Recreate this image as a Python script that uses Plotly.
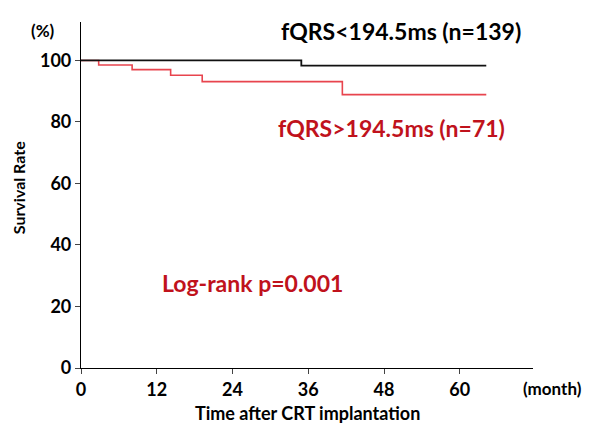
import plotly.graph_objects as go

# Kaplan-Meier step data (months, survival %)
low_t = [0, 34.9, 64.2]
low_s = [100, 98.3, 98.3]
high_t = [0, 2.8, 8.1, 14.2, 19.2, 41.4, 64.2]
high_s = [100, 98.5, 97.0, 95.2, 93.1, 88.9, 88.9]

x_ticks = [0, 12, 24, 36, 48, 60]
y_ticks = [0, 20, 40, 60, 80, 100]

FONT = "Lato"
RED_TXT = "#c0121c"

fig = go.Figure()
fig.add_trace(go.Scatter(x=high_t, y=high_s, mode="lines", line=dict(color="#e8444e", width=1.6, shape="hv"),
                         showlegend=False, hoverinfo="skip"))
fig.add_trace(go.Scatter(x=low_t, y=low_s, mode="lines", line=dict(color="#111111", width=1.8, shape="hv"),
                         showlegend=False, hoverinfo="skip"))

# page has ~8px body margin, so figure is shrunk and shifted accordingly
fig.update_layout(
    width=585, height=417,
    margin=dict(l=73, r=60, t=14, b=57),
    paper_bgcolor="white", plot_bgcolor="white",
    font=dict(family=FONT, color="black"),
    xaxis=dict(range=[0, 71.6], tickvals=x_ticks, ticks="outside", ticklen=5, tickwidth=1,
               showline=True, linecolor="black", linewidth=1.2, showgrid=False, zeroline=False,
               automargin=False, tickfont=dict(size=18, color="black", weight=700)),
    yaxis=dict(range=[0, 112.5], tickvals=y_ticks, ticks="outside", ticklen=5, tickwidth=1,
               showline=True, linecolor="black", linewidth=1.2, showgrid=False, zeroline=False,
               automargin=False, tickfont=dict(size=18, color="black", weight=700)),
)

fig.add_annotation(x=70, y=109.7, xref="x", yref="y", xanchor="right", yanchor="middle",
                   text="<b>fQRS&lt;194.5ms (n=139)</b>", showarrow=False, font=dict(size=23, color="black"))
fig.add_annotation(x=30.9, y=77.9, xref="x", yref="y", xanchor="left", yanchor="middle",
                   text="<b>fQRS&gt;194.5ms (n=71)</b>", showarrow=False, font=dict(size=23, color=RED_TXT))
fig.add_annotation(x=12.5, y=27.6, xref="x", yref="y", xanchor="left", yanchor="middle",
                   text="<b>Log-rank p=0.001</b>", showarrow=False, font=dict(size=23, color=RED_TXT))
fig.add_annotation(x=-0.084, y=109.7, xref="paper", yref="y", xanchor="center", yanchor="middle",
                   text="<b>(%)</b>", showarrow=False, font=dict(size=17, color="black"))
fig.add_annotation(x=0.974, y=-0.058, xref="paper", yref="paper", xanchor="left", yanchor="middle",
                   text="<b>(month)</b>", showarrow=False, font=dict(size=17, color="black"))
# axis titles
fig.add_annotation(x=0.5, y=-0.13, xref="paper", yref="paper", xanchor="center", yanchor="middle",
                   text="<b>Time after CRT implantation</b>", showarrow=False, font=dict(size=18, color="black"))
fig.add_annotation(x=-0.139, y=0.52, xref="paper", yref="paper", xanchor="center", yanchor="middle",
                   text="<b>Survival Rate</b>", textangle=-90, showarrow=False, font=dict(size=16, color="black"))

fig.write_html("out.html")
